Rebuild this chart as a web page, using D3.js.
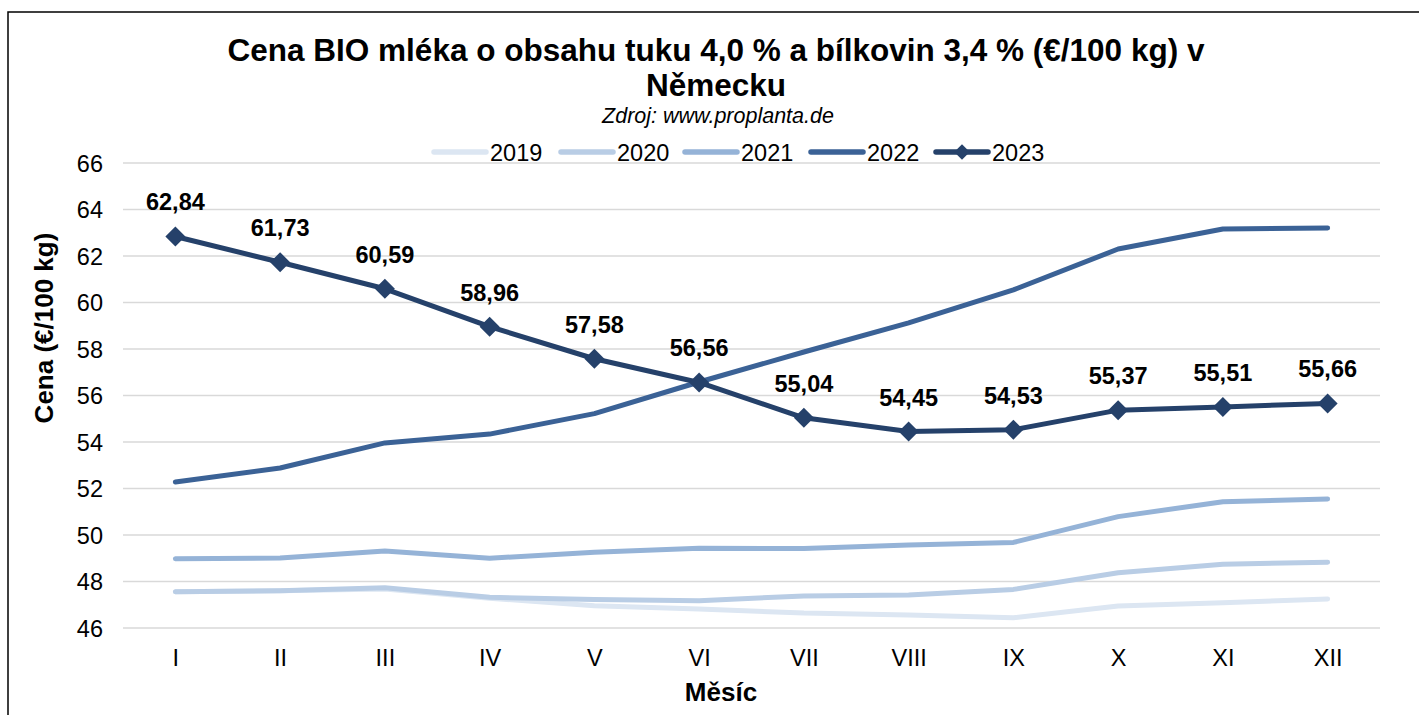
<!DOCTYPE html>
<html><head><meta charset="utf-8">
<script src="https://cdn.jsdelivr.net/npm/d3@7"></script>
<style>html,body{margin:0;padding:0;background:#fff;}svg{display:block;font-family:"Liberation Sans",Arial,sans-serif;}</style>
</head><body>
<svg id="c" width="1419" height="715"></svg>
<script>
const months = ["I","II","III","IV","V","VI","VII","VIII","IX","X","XI","XII"];
const years = ["2019","2020","2021","2022","2023"];
const v2019 = [47.56,47.60,47.68,47.28,46.96,46.82,46.64,46.56,46.44,46.95,47.09,47.25];
const v2020 = [47.56,47.60,47.73,47.32,47.23,47.17,47.38,47.42,47.66,48.38,48.74,48.83];
const v2021 = [48.98,49.01,49.31,49.00,49.26,49.43,49.42,49.57,49.68,50.79,51.43,51.55];
const v2022 = [52.28,52.88,53.96,54.34,55.22,56.58,57.87,59.12,60.54,62.30,63.16,63.20];
const v2023 = [62.84,61.73,60.59,58.96,57.58,56.56,55.04,54.45,54.53,55.37,55.51,55.66];
const yTicks = [46,48,50,52,54,56,58,60,62,64,66];
const colors = ["#dce6f2","#b9cde5","#95b3d7","#3b6296","#25416a"];
const series = [v2019,v2020,v2021,v2022,v2023];

const svg = d3.select("#c");
svg.append("rect").attr("x",8).attr("y",12).attr("width",1440).attr("height",740)
  .attr("fill","none").attr("stroke","#000").attr("stroke-width",1.5);

const x = d3.scalePoint().domain(months).range([123,1380]).padding(0.5);
const y = d3.scaleLinear().domain([46,66]).range([628,163]);

svg.append("g").selectAll("line").data(yTicks).join("line")
  .attr("x1",123).attr("x2",1380).attr("y1",d=>y(d)).attr("y2",d=>y(d))
  .attr("stroke","#d9d9d9").attr("stroke-width",1.5);

const yAxis = svg.append("g").attr("transform","translate(103,0)")
  .call(d3.axisLeft(y).tickValues(yTicks).tickSize(0).tickPadding(0).tickFormat(d3.format("d")));
yAxis.select(".domain").remove();
yAxis.selectAll("text").attr("font-size",23.5).attr("fill","#000").attr("dy","0.36em").attr("font-family","Liberation Sans, Arial, sans-serif");

const xAxis = svg.append("g").attr("transform","translate(0,666)")
  .call(d3.axisBottom(x).tickSize(0).tickPadding(0));
xAxis.select(".domain").remove();
xAxis.selectAll("text").attr("font-size",23.5).attr("fill","#000").attr("dy","0").attr("font-family","Liberation Sans, Arial, sans-serif");

const line = d3.line().x((d,i)=>x(months[i])).y(d=>y(d));
series.forEach((s,k)=>{
  svg.append("path").datum(s).attr("d",line).attr("fill","none")
    .attr("stroke",colors[k]).attr("stroke-width",5)
    .attr("stroke-linecap","round").attr("stroke-linejoin","round");
});
const diamond = d3.symbol().type(d3.symbolSquare).size(200);
svg.append("g").selectAll("path").data(v2023).join("path")
  .attr("d",diamond)
  .attr("transform",(d,i)=>`translate(${x(months[i])},${y(d)}) rotate(45)`)
  .attr("fill",colors[4]);
svg.append("g").selectAll("text").data(v2023).join("text")
  .attr("x",(d,i)=>x(months[i])).attr("y",d=>y(d)-26)
  .attr("text-anchor","middle").attr("font-size",23.5).attr("font-weight","bold").attr("fill","#000")
  .text(d=>d3.format(".2f")(d).replace(".",","));

const t = svg.append("g").attr("text-anchor","middle");
t.append("text").attr("x",716).attr("y",61).attr("font-size",31.5).attr("font-weight","bold")
  .text("Cena BIO mléka o obsahu tuku 4,0 % a bílkovin 3,4 % (€/100 kg) v");
t.append("text").attr("x",716).attr("y",96).attr("font-size",31.5).attr("font-weight","bold")
  .text("Německu");
t.append("text").attr("x",718).attr("y",123).attr("font-size",21.5).attr("font-style","italic")
  .text("Zdroj: www.proplanta.de");

const legX = [432,559,683,809,934];
const lg = svg.append("g");
years.forEach((yr,k)=>{
  const g = lg.append("g").attr("transform",`translate(${legX[k]},152)`);
  g.append("line").attr("x1",2).attr("x2",54).attr("y1",0).attr("y2",0)
    .attr("stroke",colors[k]).attr("stroke-width",5.5).attr("stroke-linecap","round");
  if(k===4) g.append("path").attr("d",d3.symbol().type(d3.symbolSquare).size(120)()).attr("transform","translate(28,0) rotate(45)").attr("fill",colors[k]);
  g.append("text").attr("x",58).attr("y",8.5).attr("font-size",23.5).text(yr);
});

svg.append("text").attr("transform","translate(53,328) rotate(-90)").attr("text-anchor","middle")
  .attr("font-size",26).attr("font-weight","bold").text("Cena (€/100 kg)");
svg.append("text").attr("x",721).attr("y",701).attr("text-anchor","middle")
  .attr("font-size",26).attr("font-weight","bold").text("Měsíc");
</script>
</body></html>
